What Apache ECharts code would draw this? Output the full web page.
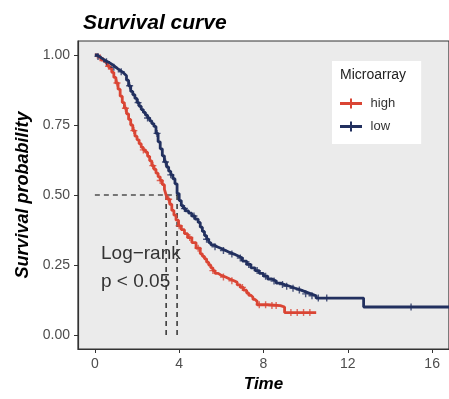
<!DOCTYPE html>
<html>
<head>
<meta charset="utf-8">
<script src="https://cdn.jsdelivr.net/npm/echarts@6/dist/echarts.min.js"></script>
<style>html,body{margin:0;padding:0;background:#fff}#c{width:449px;height:399px}</style>
</head>
<body>
<div id="c"></div>
<script>
// ---- data ----
var lowTimes = [0,0.1,0.2,0.3,0.4,0.5,0.6,0.7,0.8,0.9,1.0,1.1,1.2,1.3,1.4,1.5,1.6,1.7,1.8,1.9,2.0,2.1,2.2,2.3,2.4,2.5,2.6,2.7,2.8,2.9,3.0,3.1,3.2,3.3,3.4,3.5,3.6,3.7,3.8,3.9,4.0,4.1,4.2,4.3,4.45,4.6,4.75,4.9,5.0,5.1,5.2,5.3,5.4,5.5,5.65,5.8,6.0,6.2,6.4,6.6,6.8,7.0,7.2,7.4,7.6,7.8,8.0,8.2,8.4,8.6,8.8,9.0,9.25,9.5,9.75,10.0,10.25,10.5,12.75,16.8];
var lowSurv  = [1.0,0.995,0.99,0.985,0.98,0.976,0.972,0.967,0.962,0.956,0.95,0.945,0.94,0.933,0.926,0.91,0.89,0.87,0.858,0.845,0.83,0.817,0.805,0.795,0.785,0.775,0.765,0.755,0.745,0.72,0.69,0.665,0.64,0.618,0.6,0.585,0.572,0.558,0.54,0.505,0.48,0.462,0.452,0.443,0.435,0.425,0.414,0.402,0.385,0.37,0.355,0.342,0.33,0.322,0.315,0.309,0.302,0.295,0.289,0.282,0.275,0.264,0.252,0.24,0.23,0.22,0.21,0.2,0.193,0.185,0.18,0.174,0.167,0.161,0.154,0.147,0.14,0.132,0.1,0.1];
var highTimes = [0,0.1,0.2,0.3,0.4,0.5,0.6,0.7,0.8,0.9,1.0,1.1,1.2,1.3,1.4,1.5,1.6,1.7,1.8,1.9,2.0,2.1,2.2,2.3,2.4,2.5,2.6,2.7,2.8,2.9,3.0,3.1,3.2,3.3,3.38,3.45,3.55,3.65,3.75,3.85,3.97,4.1,4.25,4.4,4.6,4.8,5.0,5.1,5.2,5.3,5.4,5.5,5.6,5.7,5.85,6.0,6.2,6.4,6.6,6.75,6.9,7.05,7.2,7.3,7.4,7.5,7.6,7.7,8.2,8.8,9.0,10.5];
var highSurv  = [1.0,0.995,0.99,0.982,0.975,0.968,0.96,0.952,0.938,0.92,0.9,0.878,0.853,0.83,0.81,0.79,0.77,0.75,0.73,0.71,0.697,0.683,0.67,0.661,0.653,0.638,0.622,0.605,0.592,0.578,0.565,0.552,0.537,0.52,0.5,0.485,0.467,0.445,0.428,0.41,0.39,0.376,0.362,0.348,0.33,0.31,0.29,0.281,0.272,0.26,0.25,0.24,0.23,0.22,0.213,0.207,0.2,0.194,0.188,0.179,0.17,0.16,0.15,0.142,0.135,0.127,0.12,0.108,0.105,0.1,0.08,0.08];
var lowCensor  = [0.15,0.55,0.9,1.25,1.65,2.05,2.5,2.95,3.35,3.6,4.25,4.7,5.3,5.7,6.1,6.5,6.9,7.3,7.7,8.1,8.5,8.9,9.1,9.4,9.7,10.0,10.3,10.6,11.0,15.0];
var highCensor = [0.25,0.65,1.05,1.45,1.85,2.3,2.75,3.1,3.5,4.0,4.5,4.9,5.6,6.1,6.5,7.0,7.8,8.1,8.4,8.6,9.3,9.6,9.9,10.2];
var medians = [3.38, 3.9];
var xTicks = [0,4,8,12,16];
var yTicks = [0,0.25,0.5,0.75,1];
var seriesNames = ['high','low'];

var RED = '#DA4534', NAVY = '#22305F';
function pairs(t, s){ return t.map(function(v,i){return [v, s[i]];}); }
function stepAt(t, s, x){ var v = s[0]; for (var i=0;i<t.length;i++){ if (t[i] <= x) v = s[i]; } return v; }
function censorPts(ct, t, s){ return ct.map(function(x){ return [x, stepAt(t,s,x)]; }); }
var plusPath = 'path://M4,0 L6,0 L6,4 L10,4 L10,6 L6,6 L6,10 L4,10 L4,6 L0,6 L0,4 L4,4 Z';
var legendIcon = 'path://M0,3.5 L22,3.5 L22,6.5 L0,6.5 Z M10,0 L12,0 L12,10 L10,10 Z';

var chart = echarts.init(document.getElementById('c'), null, {renderer:'canvas'});
var font = 'Liberation Sans, Arial, Helvetica, sans-serif';
chart.setOption({
  animation: false,
  backgroundColor: '#ffffff',
  title: {
    text: 'Survival curve', left: 78, top: 8,
    textStyle: {fontFamily: font, fontSize: 21, fontWeight: 'bold', fontStyle: 'italic', color: '#000'}
  },
  grid: {left: 78, top: 41, right: -6, bottom: 50, show: true, backgroundColor: '#EBEBEB', borderColor: '#333', borderWidth: 1.2},
  xAxis: {
    type: 'value', min: -0.8, max: 16.8,
    name: 'Time', nameLocation: 'middle', nameGap: 26,
    nameTextStyle: {fontFamily: font, fontSize: 17, fontWeight: 'bold', fontStyle: 'italic', color: '#000'},
    axisLine: {show: true, onZero: false, lineStyle: {color: '#333', width: 1.2}},
    axisTick: {show: true, length: 4, customValues: xTicks, lineStyle: {color: '#333'}},
    axisLabel: {customValues: xTicks, fontFamily: font, fontSize: 14, color: '#4D4D4D', margin: 8},
    splitLine: {show: false}
  },
  yAxis: {
    type: 'value', min: -0.05, max: 1.05,
    name: 'Survival probability', nameLocation: 'middle', nameGap: 36, nameRotate: 90,
    nameTextStyle: {fontFamily: font, fontSize: 18, fontWeight: 'bold', fontStyle: 'italic', color: '#000'},
    axisLine: {show: true, onZero: false, lineStyle: {color: '#333', width: 1.2}},
    axisTick: {show: true, length: 4, customValues: yTicks, lineStyle: {color: '#333'}},
    axisLabel: {customValues: yTicks, fontFamily: font, fontSize: 14, color: '#4D4D4D', margin: 8,
      formatter: function(v){ return v.toFixed(2); }},
    splitLine: {show: false}
  },
  legend: {
    data: [{name: seriesNames[0], icon: legendIcon}, {name: seriesNames[1], icon: legendIcon}],
    orient: 'vertical', left: 332, top: 61,
    backgroundColor: '#ffffff', padding: [36, 26, 11, 8], itemGap: 10,
    itemWidth: 22, itemHeight: 10,
    formatter: function(n){ return ' ' + n; },
    textStyle: {fontFamily: font, fontSize: 13, color: '#333'}
  },
  graphic: [
    {type: 'text', left: 340, top: 68, z: 100, style: {text: 'Microarray', font: '14px ' + font, fill: '#222'}},
    {type: 'text', left: 101, top: 240, z: 100, style: {text: 'Log\u2212rank\np < 0.05', font: '19px ' + font, fill: '#333', lineHeight: 28}}
  ],
  series: [
    {name: 'median-h', type: 'line', data: [[0,0.5],[medians[1],0.5]], symbol: 'none', silent: true,
      lineStyle: {color: '#000', width: 1.2, type: [5,4]}, z: 1},
    {name: 'median-v1', type: 'line', data: [[medians[0],0],[medians[0],0.5]], symbol: 'none', silent: true,
      lineStyle: {color: '#000', width: 1.2, type: [5,4]}, z: 1},
    {name: 'median-v2', type: 'line', data: [[medians[1],0],[medians[1],0.5]], symbol: 'none', silent: true,
      lineStyle: {color: '#000', width: 1.2, type: [5,4]}, z: 1},
    {name: seriesNames[0], type: 'line', step: 'end', data: pairs(highTimes, highSurv), symbol: 'none',
      itemStyle: {color: RED}, lineStyle: {color: RED, width: 2.8}, z: 3},
    {name: seriesNames[1], type: 'line', step: 'end', data: pairs(lowTimes, lowSurv), symbol: 'none',
      itemStyle: {color: NAVY}, lineStyle: {color: NAVY, width: 2.8}, z: 4},
    {name: seriesNames[0], type: 'scatter', data: censorPts(highCensor, highTimes, highSurv), symbol: plusPath,
      symbolSize: 7, itemStyle: {color: RED}, z: 3},
    {name: seriesNames[1], type: 'scatter', data: censorPts(lowCensor, lowTimes, lowSurv), symbol: plusPath,
      symbolSize: 7, itemStyle: {color: NAVY}, z: 4}
  ]
});
</script>
</body>
</html>
